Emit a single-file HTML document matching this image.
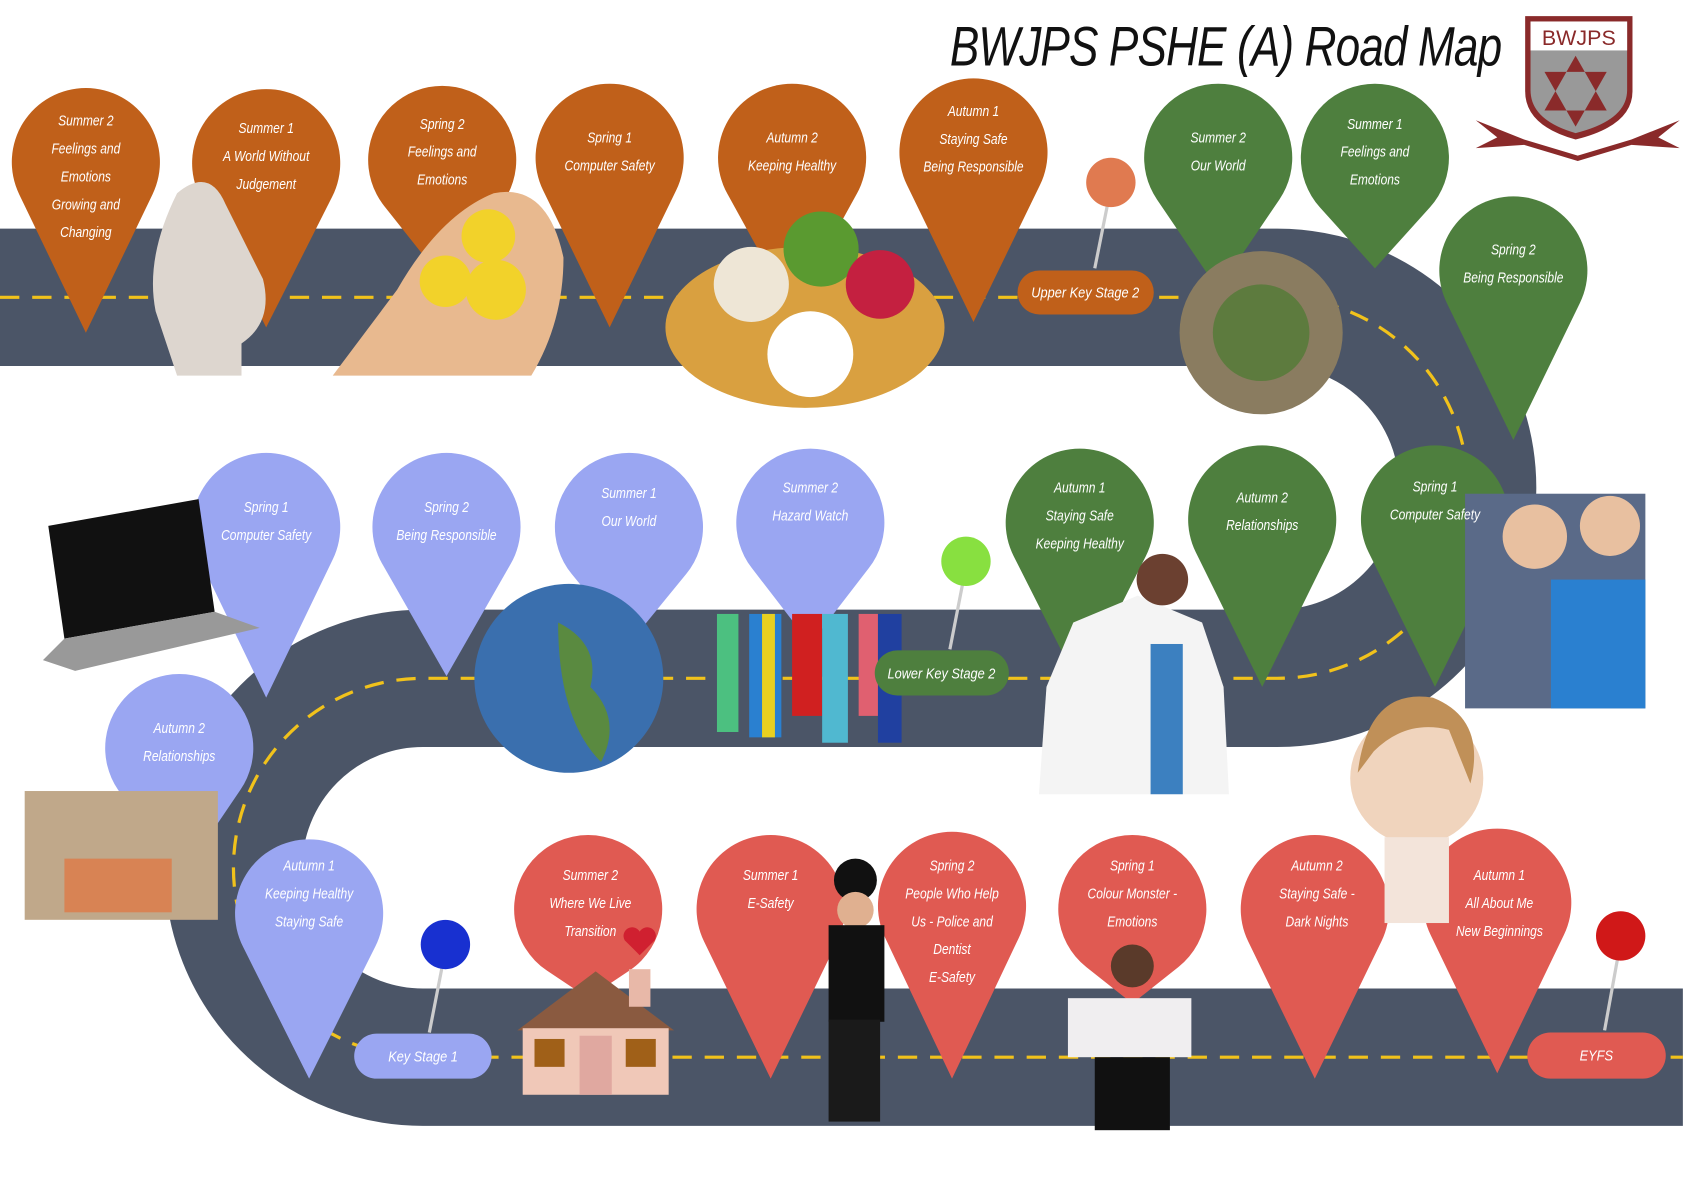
<!DOCTYPE html>
<html><head><meta charset="utf-8">
<style>
html,body{margin:0;padding:0;background:#fff;width:1683px;height:1190px;overflow:hidden}
#stage{position:absolute;left:0;top:0;width:1568px;height:1109px;transform:scale(1.0733);transform-origin:0 0;font-family:"Liberation Sans Narrow","Liberation Sans",sans-serif}
svg{position:absolute;left:0;top:0}
.t{position:absolute;width:160px;margin-left:-80px;text-align:center;color:#fff;font-size:14px;line-height:26px;font-style:italic;transform:scaleX(0.8);white-space:nowrap}
.pill{position:absolute;color:#fff;font-size:14px;font-style:italic;text-align:center;border-radius:22px;white-space:nowrap}
.pill span{display:inline-block;transform:scaleX(0.85)}
#title{position:absolute;left:885px;top:14px;font-size:52px;color:#111;font-style:italic;white-space:nowrap;letter-spacing:-1px;transform:scaleX(0.79);transform-origin:0 0}
</style></head><body>
<div id="stage">
<svg width="1568" height="1109" viewBox="0 0 1568 1109">
 <g fill="none">
  <path d="M0,277 H1190 A177,177 0 0 1 1190,632 H394 A176,176 0 0 0 394,985 H1568" stroke="#4b5567" stroke-width="128"/>
  <path d="M0,277 H1190 A177,177 0 0 1 1190,632 H394 A176,176 0 0 0 394,985 H1568" stroke="#f1c21b" stroke-width="3" stroke-dasharray="18 12"/>
 </g>
 <g id="pins"></g>
 <!-- images approximations -->
 <path d="M165,180 q30,-25 45,10 l35,70 q10,40 -20,60 l0,30 h-60 l-20,-60 q-10,-50 20,-110z" fill="#ddd6cf"/>
 <path d="M310,350 l60,-80 q40,-70 90,-90 q50,-10 65,60 q0,60 -30,110z" fill="#e8b98f"/>
 <circle cx="455" cy="220" r="25" fill="#f2d22a"/><circle cx="415" cy="262" r="24" fill="#f2d22a"/><circle cx="462" cy="270" r="28" fill="#f2d22a"/>
 <ellipse cx="750" cy="305" rx="130" ry="75" fill="#d9a040"/>
 <circle cx="765" cy="232" r="35" fill="#5a9a30"/><circle cx="700" cy="265" r="35" fill="#eee6d6"/><circle cx="820" cy="265" r="32" fill="#c42040"/><circle cx="755" cy="330" r="40" fill="#fff"/>
 <circle cx="1175" cy="310" r="76" fill="#8a7c60"/><circle cx="1175" cy="310" r="45" fill="#4a7a30" opacity=".7"/>
 <path d="M45,490 L185,465 L200,570 L60,595 Z" fill="#111"/><path d="M40,615 L60,595 L200,570 L242,585 L70,625 Z" fill="#999"/>
 <circle cx="530" cy="632" r="88" fill="#3a6fae"/><path d="M520,580 q40,20 30,60 q30,30 10,70 q-40,-40 -40,-130z" fill="#5a8a40"/>
 <rect x="668" y="572" width="20" height="110" fill="#4cc080"/><rect x="698" y="572" width="30" height="115" fill="#2a80d0"/><rect x="710" y="572" width="12" height="115" fill="#e8d020"/><rect x="738" y="572" width="28" height="95" fill="#d02020"/><rect x="766" y="572" width="24" height="120" fill="#50b8d0"/><rect x="800" y="572" width="18" height="95" fill="#e06070"/><rect x="818" y="572" width="22" height="120" fill="#2040a0"/>
 <path d="M968,740 L975,640 L1000,580 L1060,555 L1120,580 L1140,640 L1145,740 Z" fill="#f4f4f4"/><circle cx="1083" cy="540" r="24" fill="#6b4030"/><rect x="1072" y="600" width="30" height="140" fill="#3c80c0"/>
 <rect x="1365" y="460" width="168" height="200" fill="#5a6a88"/><circle cx="1430" cy="500" r="30" fill="#e8c0a0"/><circle cx="1500" cy="490" r="28" fill="#e8c0a0"/><rect x="1445" y="540" width="88" height="120" fill="#2a80d0"/>
 <circle cx="1320" cy="725" r="62" fill="#f0d4bd"/><path d="M1265,720 q10,-80 70,-70 q50,20 35,80 l-20,-50 q-40,-10 -70,20z" fill="#c09058"/><rect x="1290" y="780" width="60" height="80" fill="#f3e4da"/>
 <rect x="23" y="737" width="180" height="120" fill="#c0a88a"/><rect x="60" y="800" width="100" height="50" fill="#e86a30" opacity=".6"/>
 <path d="M482,960 L555,905 L628,960 Z" fill="#8a5a40"/><rect x="487" y="958" width="136" height="62" fill="#f0c8b8"/><rect x="498" y="968" width="28" height="26" fill="#a06018"/><rect x="583" y="968" width="28" height="26" fill="#a06018"/><rect x="540" y="965" width="30" height="55" fill="#e0a8a0"/><rect x="586" y="903" width="20" height="35" fill="#e8b8a8"/>
 <path d="M596,890 l-14,-14 a8,8 0 0 1 14,-8 a8,8 0 0 1 14,8z" fill="#d02030"/>
 <circle cx="797" cy="820" r="20" fill="#111"/><circle cx="797" cy="848" r="17" fill="#e0b090"/><rect x="772" y="862" width="52" height="90" fill="#111"/><rect x="772" y="950" width="48" height="95" fill="#1a1a1a"/>
 <circle cx="1055" cy="900" r="20" fill="#5a3a2a"/><rect x="995" y="930" width="115" height="55" fill="#f0eef0"/><rect x="1020" y="985" width="70" height="68" fill="#111"/>
 <path d="M1375,112 L1420,130 L1470,145 L1520,130 L1565,112 L1545,128 L1565,138 L1520,135 L1470,150 L1420,135 L1375,138 L1395,128 Z" fill="#8a2a2a"/>
 <path d="M1421,15 h100 v70 q0,32 -53,45 q-47,-13 -47,-45z" fill="#8a2a2a"/>
 <path d="M1426,20 H1516 V84 Q1516,112 1468,124 Q1426,112 1426,84 Z" fill="#999"/><rect x="1426" y="20" width="90" height="27" fill="#fff"/>
 <path d="M1468,52 L1497,103 L1439,103 Z M1468,118 L1497,67 L1439,67 Z" fill="#8a2a2a"/>
 <text x="1471" y="42" font-size="20" fill="#8a2a2a" text-anchor="middle" font-family="Liberation Sans">BWJPS</text>
 <!-- push pins -->
 <line x1="1035" y1="175" x2="1020" y2="250" stroke="#ccc" stroke-width="3"/><circle cx="1035" cy="170" r="23" fill="#e07a50"/>
 <line x1="900" y1="528" x2="885" y2="605" stroke="#ccc" stroke-width="3"/><circle cx="900" cy="523" r="23" fill="#88e040"/>
 <line x1="415" y1="885" x2="400" y2="962" stroke="#ccc" stroke-width="3"/><circle cx="415" cy="880" r="23" fill="#1830d0"/>
 <line x1="1510" y1="877" x2="1495" y2="960" stroke="#ccc" stroke-width="3"/><circle cx="1510" cy="872" r="23" fill="#d01818"/>
</svg>
<div id="title">BWJPS PSHE (A) Road Map</div>

<div class="pill" style="left:948px;top:252px;width:127px;height:41px;line-height:41px;background:#c0601a"><span>Upper Key Stage 2</span></div>
<div class="pill" style="left:815px;top:606px;width:125px;height:42px;line-height:42px;background:#4e7f3e"><span>Lower Key Stage 2</span></div>
<div class="pill" style="left:330px;top:963px;width:128px;height:42px;line-height:42px;background:#9aa6f2"><span>Key Stage 1</span></div>
<div class="pill" style="left:1423px;top:962px;width:129px;height:43px;line-height:43px;background:#e05a52"><span>EYFS</span></div>

<div class="t" style="left:80px;top:99px">Summer 2<br>Feelings and<br>Emotions<br>Growing and<br>Changing</div>
<div class="t" style="left:248px;top:106px">Summer 1<br>A World Without<br>Judgement</div>
<div class="t" style="left:412px;top:102px">Spring 2<br>Feelings and<br>Emotions</div>
<div class="t" style="left:568px;top:115px">Spring 1<br>Computer Safety</div>
<div class="t" style="left:738px;top:115px">Autumn 2<br>Keeping Healthy</div>
<div class="t" style="left:907px;top:90px">Autumn 1<br>Staying Safe<br>Being Responsible</div>
<div class="t" style="left:1135px;top:115px">Summer 2<br>Our World</div>
<div class="t" style="left:1281px;top:102px">Summer 1<br>Feelings and<br>Emotions</div>
<div class="t" style="left:1410px;top:219px">Spring 2<br>Being Responsible</div>
<div class="t" style="left:1006px;top:441px">Autumn 1<br>Staying Safe<br>Keeping Healthy</div>
<div class="t" style="left:1176px;top:450px">Autumn 2<br>Relationships</div>
<div class="t" style="left:1337px;top:440px">Spring 1<br>Computer Safety</div>
<div class="t" style="left:248px;top:459px">Spring 1<br>Computer Safety</div>
<div class="t" style="left:416px;top:459px">Spring 2<br>Being Responsible</div>
<div class="t" style="left:586px;top:446px">Summer 1<br>Our World</div>
<div class="t" style="left:755px;top:441px">Summer 2<br>Hazard Watch</div>
<div class="t" style="left:167px;top:665px">Autumn 2<br>Relationships</div>
<div class="t" style="left:288px;top:793px">Autumn 1<br>Keeping Healthy<br>Staying Safe</div>
<div class="t" style="left:550px;top:802px">Summer 2<br>Where We Live<br>Transition</div>
<div class="t" style="left:718px;top:802px">Summer 1<br>E-Safety</div>
<div class="t" style="left:887px;top:793px">Spring 2<br>People Who Help<br>Us - Police and<br>Dentist<br>E-Safety</div>
<div class="t" style="left:1055px;top:793px">Spring 1<br>Colour Monster -<br>Emotions</div>
<div class="t" style="left:1227px;top:793px">Autumn 2<br>Staying Safe -<br>Dark Nights</div>
<div class="t" style="left:1397px;top:802px">Autumn 1<br>All About Me<br>New Beginnings</div>

<script>
var P=[[80,82,310,'#c0601a'],[248,83,305,'#c0601a'],[412,80,260,'#c0601a'],[568,78,305,'#c0601a'],[738,78,290,'#c0601a'],[907,73,300,'#c0601a'],
[1135,78,270,'#4e7f3e'],[1281,78,250,'#4e7f3e'],[1410,183,410,'#4e7f3e'],[1006,418,640,'#4e7f3e'],[1176,415,640,'#4e7f3e'],[1337,415,640,'#4e7f3e'],
[248,422,650,'#9aa6f2'],[416,422,630,'#9aa6f2'],[586,422,600,'#9aa6f2'],[755,418,600,'#9aa6f2'],[167,628,820,'#9aa6f2'],[288,782,1005,'#9aa6f2'],
[548,778,930,'#e05a52'],[718,778,1005,'#e05a52'],[887,775,1005,'#e05a52'],[1055,778,935,'#e05a52'],[1225,778,1005,'#e05a52'],[1395,772,1000,'#e05a52']];
var g=document.getElementById('pins'),s='';
P.forEach(function(p){var r=69,cx=p[0],cy=p[1]+r,ty=p[2],d=ty-cy;var a=Math.acos(r/d);
var x1=cx-r*Math.sin(a),y1=cy+r*Math.cos(a),x2=cx+r*Math.sin(a);
s+='<path d="M'+cx+','+ty+' L'+x1+','+y1+' A'+r+','+r+' 0 1 1 '+x2+','+y1+' Z" fill="'+p[3]+'"/>';});
g.innerHTML=s;
</script>
</div>
</body></html>
